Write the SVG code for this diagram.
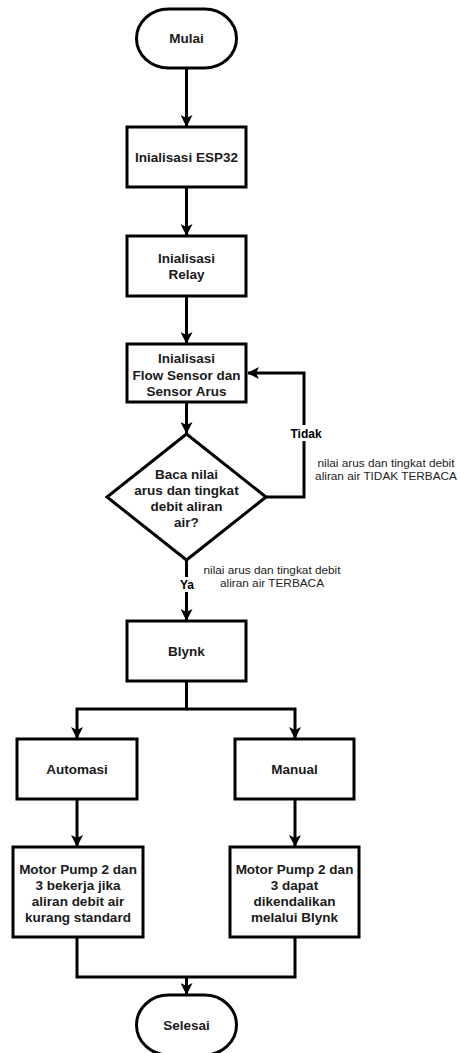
<svg xmlns="http://www.w3.org/2000/svg" width="460" height="1053" viewBox="0 0 460 1053">
<defs>
<style>
.s{fill:#fff;stroke:#000;stroke-width:3}
.t{font-family:"Liberation Sans",Arial,sans-serif;font-weight:bold;font-size:13.5px;fill:#1a1a1a;text-anchor:middle}
.l{font-family:"Liberation Sans",Arial,sans-serif;font-weight:bold;font-size:12px;fill:#000;text-anchor:middle}
.n{font-family:"Liberation Sans",Arial,sans-serif;font-size:11.8px;fill:#222;text-anchor:middle}
.c{fill:none;stroke:#000;stroke-width:3}
</style>
<marker id="a" viewBox="0 0 12 12" refX="11" refY="6" markerWidth="12" markerHeight="12" markerUnits="userSpaceOnUse" orient="auto">
<path d="M0,0 L12,6 L0,12 L3,6 Z" fill="#000"/>
</marker>
</defs>
<rect width="460" height="1053" fill="#fff"/>
<g id="connectors">
<path class="c" d="M186.5,68 V126" marker-end="url(#a)"/>
<path class="c" d="M186.5,187 V235" marker-end="url(#a)"/>
<path class="c" d="M186.5,296 V343" marker-end="url(#a)"/>
<path class="c" d="M186.5,402 V433" marker-end="url(#a)"/>
<path class="c" d="M266,497 H304 V373 H248" marker-end="url(#a)"/>
<path class="c" d="M186.5,560 V620" marker-end="url(#a)"/>
<path class="c" d="M186.5,681 V709 H77 V738" marker-end="url(#a)"/>
<path class="c" d="M186.5,709 H295 V738" marker-end="url(#a)"/>
<path class="c" d="M77,799 V846" marker-end="url(#a)"/>
<path class="c" d="M295,799 V846" marker-end="url(#a)"/>
<path class="c" d="M77,937 V977 H295 V937"/>
<path class="c" d="M186.5,977 V994" marker-end="url(#a)"/>
<rect x="292" y="425" width="28" height="16" fill="#fff"/>
<text class="l" x="306" y="437.5">Tidak</text>
<rect x="177" y="577" width="20" height="15" fill="#fff"/>
<text class="l" x="187" y="589">Ya</text>
<text class="n" x="386" y="467">nilai arus dan tingkat debit</text>
<text class="n" x="386" y="480">aliran air TIDAK TERBACA</text>
<text class="n" x="272" y="574">nilai arus dan tingkat debit</text>
<text class="n" x="272" y="587">aliran air TERBACA</text>
</g>
<g id="mulai">
<rect class="s" x="136.5" y="9" width="100" height="59" rx="32" ry="29.5"/>
<text class="t" x="186.5" y="43">Mulai</text>
</g>
<g id="esp32">
<rect class="s" x="127" y="127" width="119" height="60"/>
<text class="t" x="186.5" y="162">Inialisasi ESP32</text>
</g>
<g id="relay">
<rect class="s" x="127" y="236" width="119" height="60"/>
<text class="t" x="186.5" y="263">Inialisasi</text>
<text class="t" x="186.5" y="279">Relay</text>
</g>
<g id="sensor">
<rect class="s" x="127" y="344" width="119" height="58"/>
<text class="t" x="186.5" y="363">Inialisasi</text>
<text class="t" x="186.5" y="379.5">Flow Sensor dan</text>
<text class="t" x="186.5" y="396">Sensor Arus</text>
</g>
<g id="decision">
<path class="s" d="M186.5,434 L266,497 L186.5,560 L107,497 Z"/>
<text class="t" x="186.5" y="479">Baca nilai</text>
<text class="t" x="186.5" y="495">arus dan tingkat</text>
<text class="t" x="186.5" y="511">debit aliran</text>
<text class="t" x="186.5" y="527">air?</text>
</g>
<g id="blynk">
<rect class="s" x="127" y="621" width="119" height="60"/>
<text class="t" x="186.5" y="656">Blynk</text>
</g>
<g id="automasi">
<rect class="s" x="17" y="739" width="120" height="60"/>
<text class="t" x="77" y="774">Automasi</text>
</g>
<g id="manual">
<rect class="s" x="235" y="739" width="119" height="60"/>
<text class="t" x="294.5" y="774">Manual</text>
</g>
<g id="pump-auto">
<rect class="s" x="13" y="847" width="130" height="90"/>
<text class="t" x="78" y="874">Motor Pump 2 dan</text>
<text class="t" x="78" y="890">3 bekerja jika</text>
<text class="t" x="78" y="906">aliran debit air</text>
<text class="t" x="78" y="922">kurang standard</text>
</g>
<g id="pump-manual">
<rect class="s" x="230" y="847" width="129" height="90"/>
<text class="t" x="294.5" y="874">Motor Pump 2 dan</text>
<text class="t" x="294.5" y="890">3 dapat</text>
<text class="t" x="294.5" y="906">dikendalikan</text>
<text class="t" x="294.5" y="922">melalui Blynk</text>
</g>
<g id="selesai">
<rect class="s" x="136.5" y="995" width="100" height="60" rx="32" ry="30"/>
<text class="t" x="186.5" y="1030">Selesai</text>
</g>
</svg>
